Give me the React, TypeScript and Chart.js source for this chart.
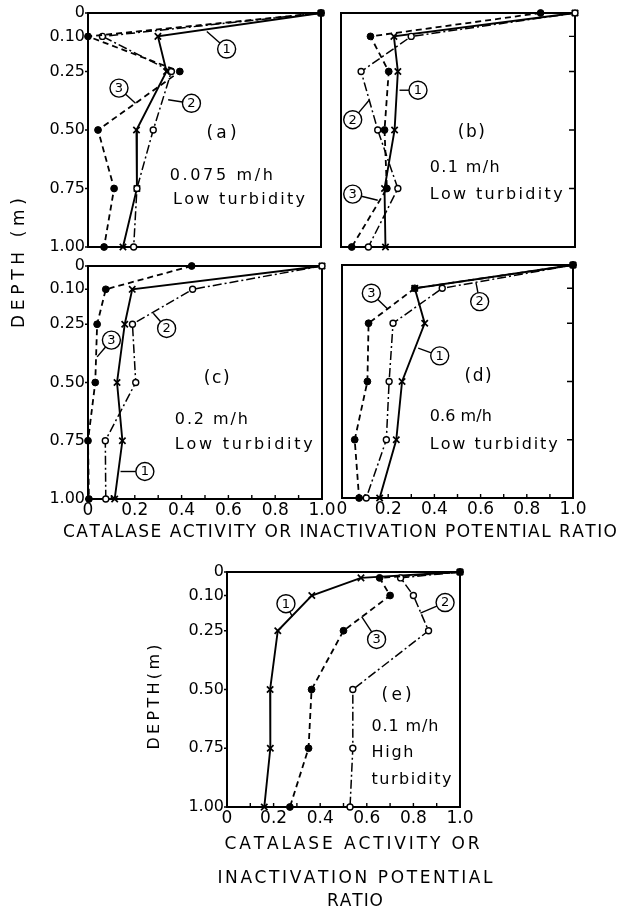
import React, { useEffect, useRef } from "react";
import { Chart, registerables } from "chart.js";
Chart.register(...registerables);

const W = 618;
const H = 910;
const FONT = "'DejaVu Sans', 'Liberation Sans', sans-serif";

// ---------- data ----------
const DEPTHS = [0, 0.1, 0.25, 0.5, 0.75, 1.0];
const DEPTHS_E = [0, 0.025, 0.1, 0.25, 0.5, 0.75, 1.0];
const Y_TICKS = [0, 0.1, 0.25, 0.5, 0.75, 1.0];
const Y_TICK_LABELS = ["0", "0.10", "0.25", "0.50", "0.75", "1.00"];
const X_TICKS = [0, 0.1, 0.2, 0.3, 0.4, 0.5, 0.6, 0.7, 0.8, 0.9, 1.0];
const X_TICK_LABELS = ["0", "", "0.2", "", "0.4", "", "0.6", "", "0.8", "", "1.0"];
const SERIES_NAMES = ["1", "2", "3"];

// (a) 0.075 m/h, low turbidity
const A_S1 = [1.0, 0.3, 0.337, 0.208, 0.21, 0.15];
const A_S2 = [1.0, 0.062, 0.358, 0.28, 0.21, 0.196];
const A_S3 = [1.0, 0.0, 0.394, 0.043, 0.112, 0.069];
// (b) 0.1 m/h, low turbidity
const B_S1 = [1.0, 0.226, 0.243, 0.229, 0.186, 0.19];
const B_S2 = [1.0, 0.3, 0.086, 0.157, 0.243, 0.117];
const B_S3 = [0.853, 0.126, 0.204, 0.186, 0.196, 0.046];
// (c) 0.2 m/h, low turbidity
const C_S1 = [1.0, 0.189, 0.157, 0.124, 0.147, 0.114];
const C_S2 = [1.0, 0.447, 0.19, 0.204, 0.074, 0.076];
const C_S3 = [0.443, 0.076, 0.039, 0.031, 0.0, 0.004];
// (d) 0.6 m/h, low turbidity
const D_S1 = [1.0, 0.315, 0.358, 0.26, 0.235, 0.163];
const D_S2 = [1.0, 0.434, 0.221, 0.204, 0.192, 0.105];
const D_S3 = [1.0, 0.315, 0.115, 0.11, 0.055, 0.074];
// (e) 0.1 m/h, high turbidity
const E_S1 = [1.0, 0.575, 0.364, 0.218, 0.185, 0.186, 0.16];
const E_S2 = [1.0, 0.745, 0.8, 0.865, 0.54, 0.54, 0.528];
const E_S3 = [1.0, 0.655, 0.7, 0.5, 0.363, 0.35, 0.27];

// ---------- panel layout / annotations ----------
type Note = { text: string; x: number; y: number; size: number; width: number; align: "left" | "center" };
type Circ = { n: string; x: number; y: number; tx: number; ty: number };
type Title = { text: string; x: number; y: number; size: number; width: number; rotate?: boolean };
type PanelCfg = {
  key: string;
  depths: number[];
  series: number[][];
  area: { l: number; t: number; r: number; b: number };
  yLabels: boolean;
  xLabels: boolean;
  rightTicks: boolean;
  bottomTicks: boolean;
  circles: Circ[];
  notes: Note[];
  titles: Title[];
};

const PANELS: PanelCfg[] = [
  {
    key: "a",
    depths: DEPTHS,
    series: [A_S1, A_S2, A_S3],
    area: { l: 88, t: 13, r: 321, b: 247 },
    yLabels: true,
    xLabels: false,
    rightTicks: false,
    bottomTicks: false,
    circles: [
      { n: "1", x: 0.595, y: 0.154, tx: 0.51, ty: 0.079 },
      { n: "3", x: 0.133, y: 0.321, tx: 0.204, ty: 0.386 },
      { n: "2", x: 0.444, y: 0.386, tx: 0.344, ty: 0.371 },
    ],
    notes: [
      { text: "(a)", x: 0.573, y: 0.514, size: 17, width: 30, align: "center" },
      { text: "0.075 m/h", x: 0.351, y: 0.697, size: 16, width: 103, align: "left" },
      { text: "Low turbidity", x: 0.365, y: 0.8, size: 16, width: 132, align: "left" },
    ],
    titles: [],
  },
  {
    key: "b",
    depths: DEPTHS,
    series: [B_S1, B_S2, B_S3],
    area: { l: 341, t: 13, r: 575, b: 247 },
    yLabels: false,
    xLabels: false,
    rightTicks: true,
    bottomTicks: false,
    circles: [
      { n: "1", x: 0.329, y: 0.33, tx: 0.25, ty: 0.33 },
      { n: "2", x: 0.05, y: 0.456, tx: 0.121, ty: 0.372 },
      { n: "3", x: 0.05, y: 0.774, tx: 0.157, ty: 0.8 },
    ],
    notes: [
      { text: "(b)", x: 0.557, y: 0.509, size: 17, width: 27, align: "center" },
      { text: "0.1 m/h", x: 0.379, y: 0.663, size: 16, width: 70, align: "left" },
      { text: "Low turbidity", x: 0.379, y: 0.778, size: 16, width: 133, align: "left" },
    ],
    titles: [],
  },
  {
    key: "c",
    depths: DEPTHS,
    series: [C_S1, C_S2, C_S3],
    area: { l: 88, t: 266, r: 322, b: 499 },
    yLabels: true,
    xLabels: true,
    rightTicks: false,
    bottomTicks: true,
    circles: [
      { n: "3", x: 0.1, y: 0.318, tx: 0.039, ty: 0.39 },
      { n: "2", x: 0.336, y: 0.268, tx: 0.279, ty: 0.203 },
      { n: "1", x: 0.243, y: 0.882, tx: 0.139, ty: 0.882 },
    ],
    notes: [
      { text: "(c)", x: 0.55, y: 0.482, size: 17, width: 26, align: "center" },
      { text: "0.2 m/h", x: 0.371, y: 0.66, size: 16, width: 73, align: "left" },
      { text: "Low turbidity", x: 0.371, y: 0.768, size: 16, width: 138, align: "left" },
    ],
    titles: [
      { text: "DEPTH (m)", x: 20, y: 263, size: 17, width: 130, rotate: true },
      { text: "CATALASE ACTIVITY OR INACTIVATION POTENTIAL RATIO", x: 340, y: 533, size: 17, width: 554 },
    ],
  },
  {
    key: "d",
    depths: DEPTHS,
    series: [D_S1, D_S2, D_S3],
    area: { l: 342, t: 265, r: 573, b: 498 },
    yLabels: false,
    xLabels: true,
    rightTicks: true,
    bottomTicks: true,
    circles: [
      { n: "3", x: 0.127, y: 0.121, tx: 0.199, ty: 0.19 },
      { n: "2", x: 0.596, y: 0.157, tx: 0.58, ty: 0.076 },
      { n: "1", x: 0.423, y: 0.39, tx: 0.33, ty: 0.357 },
    ],
    notes: [
      { text: "(d)", x: 0.589, y: 0.479, size: 17, width: 27, align: "center" },
      { text: "0.6 m/h", x: 0.38, y: 0.65, size: 16, width: 62, align: "left" },
      { text: "Low turbidity", x: 0.38, y: 0.77, size: 16, width: 128, align: "left" },
    ],
    titles: [],
  },
  {
    key: "e",
    depths: DEPTHS_E,
    series: [E_S1, E_S2, E_S3],
    area: { l: 227, t: 572, r: 460, b: 807 },
    yLabels: true,
    xLabels: true,
    rightTicks: false,
    bottomTicks: true,
    circles: [
      { n: "1", x: 0.253, y: 0.135, tx: 0.28, ty: 0.19 },
      { n: "2", x: 0.936, y: 0.13, tx: 0.83, ty: 0.175 },
      { n: "3", x: 0.642, y: 0.287, tx: 0.578, ty: 0.19 },
    ],
    notes: [
      { text: "(e)", x: 0.728, y: 0.525, size: 17, width: 30, align: "center" },
      { text: "0.1 m/h", x: 0.62, y: 0.66, size: 16, width: 67, align: "left" },
      { text: "High", x: 0.62, y: 0.77, size: 16, width: 42, align: "left" },
      { text: "turbidity", x: 0.62, y: 0.885, size: 16, width: 80, align: "left" },
    ],
    titles: [
      { text: "DEPTH(m)", x: 155, y: 697, size: 16, width: 105, rotate: true },
      { text: "CATALASE ACTIVITY OR", x: 352, y: 845, size: 17, width: 255 },
      { text: "INACTIVATION POTENTIAL", x: 355, y: 879, size: 17, width: 275 },
      { text: "RATIO", x: 355, y: 902, size: 17, width: 56 },
    ],
  },
];

// ---------- drawing helpers ----------
function drawSpaced(
  ctx: CanvasRenderingContext2D,
  text: string,
  x: number,
  y: number,
  size: number,
  width: number,
  align: "left" | "center"
) {
  ctx.font = `${size}px ${FONT}`;
  ctx.textAlign = "left";
  ctx.textBaseline = "middle";
  const chars = Array.from(text);
  const ws = chars.map((c) => ctx.measureText(c).width);
  const natural = ws.reduce((s, v) => s + v, 0);
  const gap = chars.length > 1 ? (width - natural) / (chars.length - 1) : 0;
  let cx = align === "center" ? x - width / 2 : x;
  chars.forEach((c, i) => {
    ctx.fillText(c, cx, y);
    cx += ws[i] + gap;
  });
}

const SERIES_STYLE = [
  { dash: [] as number[], lw: 1.9, pointStyle: "crossRot", radius: 4.5, fill: "#000", pbw: 1.7 },
  { dash: [9, 3, 2, 3], lw: 1.5, pointStyle: "circle", radius: 3, fill: "#fff", pbw: 1.4 },
  { dash: [6, 4], lw: 1.8, pointStyle: "circle", radius: 3.4, fill: "#000", pbw: 1 },
];

function buildChart(canvas: HTMLCanvasElement, p: PanelCfg) {
  const yW = p.yLabels ? 52 : 0;
  const xH = p.xLabels ? 26 : 0;

  const decor = {
    id: "decor_" + p.key,
    beforeDatasetsDraw(chart: any) {
      const ctx = chart.ctx as CanvasRenderingContext2D;
      const { left, top, right, bottom } = chart.chartArea;
      const xs = chart.scales.x;
      const ys = chart.scales.y;
      ctx.save();
      ctx.strokeStyle = "#000";
      ctx.lineWidth = 2;
      ctx.setLineDash([]);
      ctx.strokeRect(left, top, right - left, bottom - top);
      ctx.lineWidth = 1.4;
      ctx.beginPath();
      if (p.rightTicks) {
        Y_TICKS.slice(1, -1).forEach((v) => {
          const py = ys.getPixelForValue(v);
          ctx.moveTo(right, py);
          ctx.lineTo(right - 6, py);
        });
      }
      if (p.bottomTicks) {
        X_TICKS.slice(1, -1).forEach((v) => {
          const px = xs.getPixelForValue(v);
          ctx.moveTo(px, bottom);
          ctx.lineTo(px, bottom - 4);
        });
      }
      if (p.yLabels) {
        Y_TICKS.forEach((v) => {
          const py = ys.getPixelForValue(v);
          ctx.moveTo(left, py);
          ctx.lineTo(left - 3, py);
        });
      }
      ctx.stroke();
      ctx.restore();
    },
    afterDatasetsDraw(chart: any) {
      const ctx = chart.ctx as CanvasRenderingContext2D;
      const xs = chart.scales.x;
      const ys = chart.scales.y;
      ctx.save();
      ctx.fillStyle = "#000";
      ctx.strokeStyle = "#000";
      ctx.setLineDash([]);
      p.circles.forEach((c) => {
        const cx = xs.getPixelForValue(c.x);
        const cy = ys.getPixelForValue(c.y);
        const tx = xs.getPixelForValue(c.tx);
        const ty = ys.getPixelForValue(c.ty);
        const r = 9;
        const ang = Math.atan2(ty - cy, tx - cx);
        ctx.lineWidth = 1.4;
        ctx.beginPath();
        ctx.arc(cx, cy, r, 0, Math.PI * 2);
        ctx.stroke();
        ctx.beginPath();
        ctx.moveTo(cx + r * Math.cos(ang), cy + r * Math.sin(ang));
        ctx.lineTo(tx, ty);
        ctx.stroke();
        ctx.font = `13px ${FONT}`;
        ctx.textAlign = "center";
        ctx.textBaseline = "middle";
        ctx.fillText(c.n, cx, cy + 0.5);
      });
      p.notes.forEach((n) => {
        drawSpaced(ctx, n.text, xs.getPixelForValue(n.x), ys.getPixelForValue(n.y), n.size, n.width, n.align);
      });
      p.titles.forEach((t) => {
        if (t.rotate) {
          ctx.save();
          ctx.translate(t.x, t.y);
          ctx.rotate(-Math.PI / 2);
          drawSpaced(ctx, t.text, 0, 0, t.size, t.width, "center");
          ctx.restore();
        } else {
          drawSpaced(ctx, t.text, t.x, t.y, t.size, t.width, "center");
        }
      });
      ctx.restore();
    },
  };

  return new Chart(canvas, {
    type: "scatter",
    data: {
      datasets: p.series.map((vals, i) => {
        const st = SERIES_STYLE[i];
        return {
          label: SERIES_NAMES[i],
          data: vals.map((v, j) => ({ x: v, y: p.depths[j] })),
          showLine: true,
          borderColor: "#000",
          borderWidth: st.lw,
          borderDash: st.dash,
          pointStyle: st.pointStyle as any,
          pointRadius: st.radius,
          pointBackgroundColor: st.fill,
          pointBorderColor: "#000",
          pointBorderWidth: st.pbw,
          clip: false as any,
          order: 3 - i,
        };
      }),
    },
    options: {
      responsive: false,
      animation: false,
      devicePixelRatio: 1,
      events: [],
      layout: {
        padding: {
          left: p.area.l - yW,
          top: p.area.t,
          right: W - p.area.r,
          bottom: H - p.area.b - xH,
        },
      },
      plugins: { legend: { display: false }, tooltip: { enabled: false }, title: { display: false } },
      scales: {
        x: {
          type: "linear",
          position: "bottom",
          min: 0,
          max: 1,
          grid: { display: false, drawTicks: false },
          border: { display: false },
          afterBuildTicks: (s: any) => {
            s.ticks = X_TICKS.map((v) => ({ value: v }));
          },
          afterFit: (s: any) => {
            s.height = xH;
          },
          ticks: {
            display: p.xLabels,
            autoSkip: false,
            maxRotation: 0,
            minRotation: 0,
            padding: 1,
            color: "#000",
            font: { family: FONT, size: 17 },
            callback: (_v: any, i: number) => X_TICK_LABELS[i],
          },
        },
        y: {
          type: "linear",
          position: "left",
          reverse: true,
          min: 0,
          max: 1,
          grid: { display: false, drawTicks: false },
          border: { display: false },
          afterBuildTicks: (s: any) => {
            s.ticks = Y_TICKS.map((v) => ({ value: v }));
          },
          afterFit: (s: any) => {
            s.width = yW;
          },
          ticks: {
            display: p.yLabels,
            autoSkip: false,
            padding: 3,
            color: "#000",
            font: { family: FONT, size: 16 },
            callback: (_v: any, i: number) => Y_TICK_LABELS[i],
          },
        },
      },
    } as any,
    plugins: [decor],
  });
}

function Panel({ cfg }: { cfg: PanelCfg }) {
  const ref = useRef<HTMLCanvasElement>(null);
  useEffect(() => {
    const chart = buildChart(ref.current as HTMLCanvasElement, cfg);
    return () => chart.destroy();
  }, [cfg]);
  return (
    <canvas
      ref={ref}
      width={W}
      height={H}
      style={{ position: "absolute", left: 0, top: 0, width: W, height: H }}
    />
  );
}

export default function App() {
  return (
    <div style={{ position: "absolute", left: 0, top: 0, width: W, height: H, background: "#fff", overflow: "hidden" }}>
      {PANELS.map((p) => (
        <Panel key={p.key} cfg={p} />
      ))}
    </div>
  );
}
